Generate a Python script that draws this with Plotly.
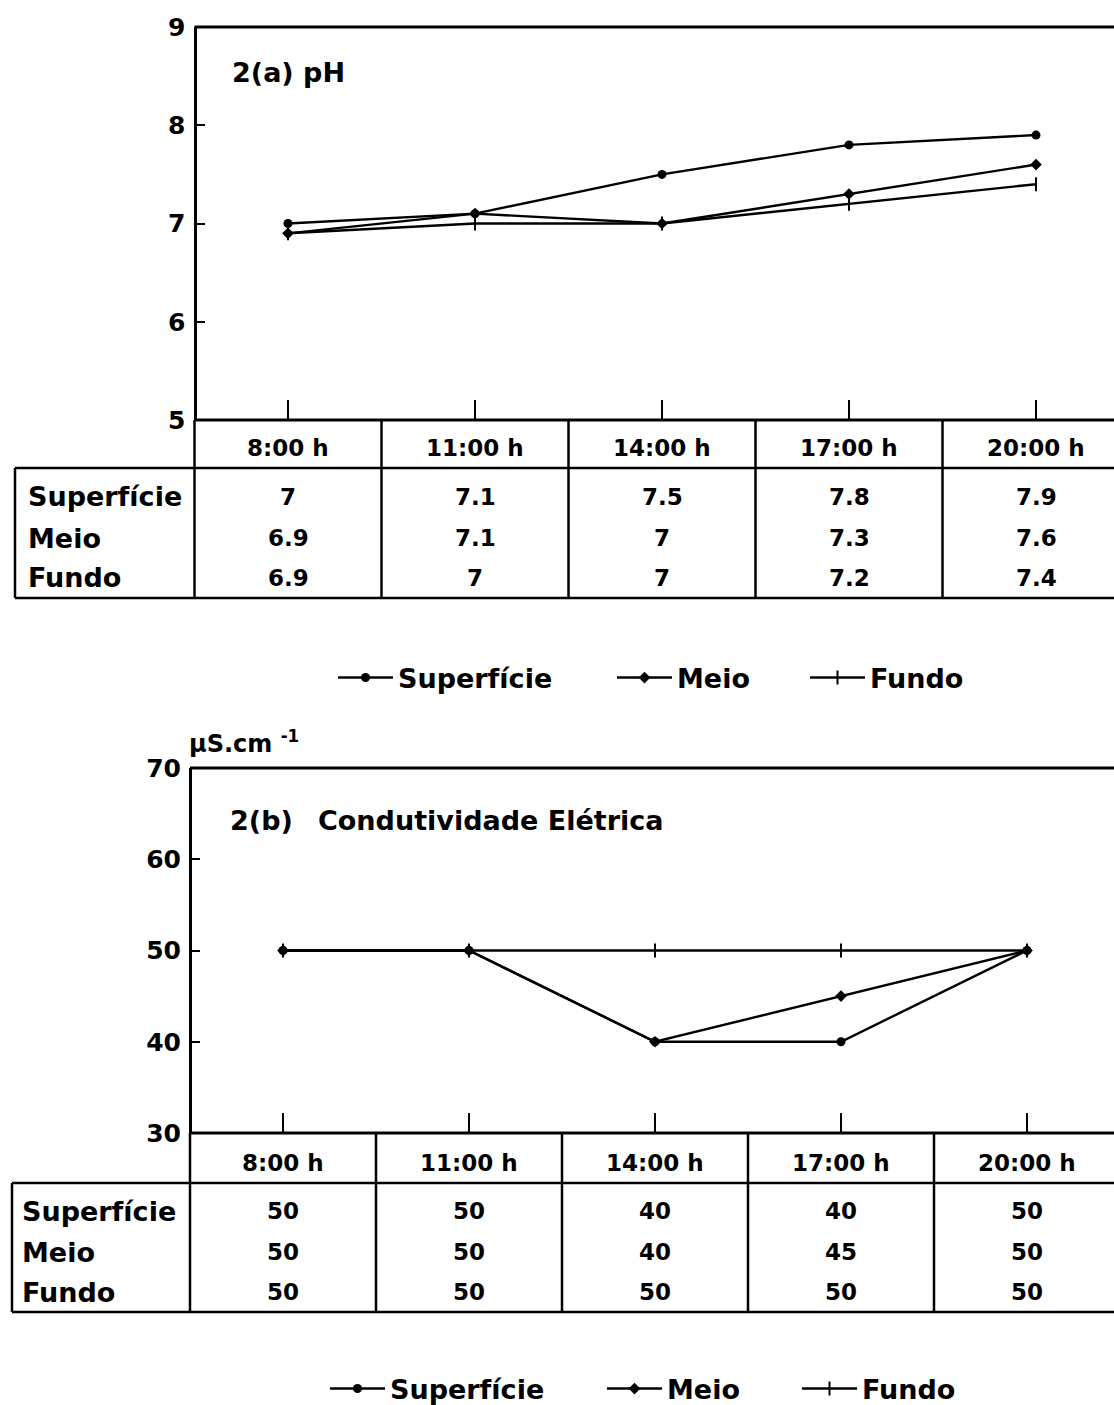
import plotly.graph_objects as go

# ---------------- data ----------------
times = ["8:00 h", "11:00 h", "14:00 h", "17:00 h", "20:00 h"]
series_names = ["Superfície", "Meio", "Fundo"]

ph_sup = [7, 7.1, 7.5, 7.8, 7.9]
ph_meio = [6.9, 7.1, 7, 7.3, 7.6]
ph_fundo = [6.9, 7, 7, 7.2, 7.4]

ce_sup = [50, 50, 40, 40, 50]
ce_meio = [50, 50, 40, 45, 50]
ce_fundo = [50, 50, 50, 50, 50]

ph_ticks = [5, 6, 7, 8, 9]
ce_ticks = [30, 40, 50, 60, 70]

# ---------------- layout helpers ----------------
W, H = 1114, 1405
FONT = "DejaVu Sans"


def fx(px):
    return px / W


def fy(py):
    return 1 - py / H


charts = [
    dict(xa="x", ya="y", x0=288, dx=187, top=27, bot=420, hbot=468, tbot=598,
         lab=15, hy=448, rows=[497, 538, 578], labx=26,
         ticks=ph_ticks, series=[ph_sup, ph_meio, ph_fundo],
         legends=["legend", "legend2", "legend3"], legx=[333, 612, 805], legy=678),
    dict(xa="x2", ya="y2", x0=283, dx=186, top=768, bot=1133, hbot=1183, tbot=1312,
         lab=12, hy=1163, rows=[1211, 1252, 1292], labx=20,
         ticks=ce_ticks, series=[ce_sup, ce_meio, ce_fundo],
         legends=["legend4", "legend5", "legend6"], legx=[325, 602, 797], legy=1389),
]

marker_styles = [
    dict(symbol="circle", size=9, color="black"),
    dict(symbol="diamond", size=9, color="black"),
    dict(symbol="line-ns-open", size=10, color="black", line=dict(width=2, color="black")),
]

fig = go.Figure()
shapes = []
annotations = []
LW = 2.5


def bfont(size):
    return dict(family=FONT, size=size, color="black", weight="bold")


legend_layouts = {}
for k, c in enumerate(charts):
    for name, vals, ms, lg, lx in zip(series_names, c["series"], marker_styles,
                                      c["legends"], c["legx"]):
        fig.add_trace(go.Scatter(
            x=times, y=vals, name=name, mode="lines+markers",
            line=dict(color="black", width=2.4),
            marker=ms, xaxis=c["xa"], yaxis=c["ya"], legend=lg,
        ))
        legend_layouts[lg] = dict(
            x=fx(lx), y=fy(c["legy"]), xanchor="left", yanchor="middle",
            orientation="h", font=bfont(27), bgcolor="rgba(0,0,0,0)",
            borderwidth=0, itemwidth=55,
        )

    xr = [-c["x0"] / c["dx"], (W - c["x0"]) / c["dx"]]
    left = -0.5
    suffix = "" if k == 0 else "2"
    fig.update_layout(**{
        "xaxis" + suffix: dict(
            domain=[0, 1], range=xr, anchor=c["ya"], type="category",
            categoryorder="array", categoryarray=times,
            showline=False, showgrid=False, zeroline=False,
            ticks="inside", ticklen=20, tickwidth=2, tickcolor="black",
            showticklabels=False, fixedrange=True, automargin=False,
        ),
        "yaxis" + suffix: dict(
            domain=[fy(c["bot"]), fy(c["top"])],
            range=[c["ticks"][0], c["ticks"][-1]],
            anchor="free", position=fx(c["x0"] + left * c["dx"]),
            showline=True, linewidth=3, linecolor="black",
            showgrid=False, zeroline=False,
            tickvals=c["ticks"], ticks="inside", ticklen=8, tickwidth=2,
            tickcolor="black", tickfont=bfont(25), ticklabelstandoff=3,
            fixedrange=True, automargin=False,
        ),
    })

    xend = xr[1] + 0.3
    # plot top border and header top border
    for py in (c["top"], c["bot"]):
        shapes.append(dict(type="line", xref=c["xa"], yref="paper",
                           x0=left, x1=xend, y0=fy(py), y1=fy(py),
                           line=dict(color="black", width=3)))
    # header bottom & table bottom
    for py in (c["hbot"], c["tbot"]):
        shapes.append(dict(type="line", xref="paper", yref="paper",
                           x0=fx(c["lab"]), x1=1.01, y0=fy(py), y1=fy(py),
                           line=dict(color="black", width=LW)))
    # label column left edge
    shapes.append(dict(type="line", xref="paper", yref="paper",
                       x0=fx(c["lab"]), x1=fx(c["lab"]),
                       y0=fy(c["hbot"]), y1=fy(c["tbot"]),
                       line=dict(color="black", width=LW)))
    # column boundaries
    for i in range(len(times) + 1):
        shapes.append(dict(type="line", xref=c["xa"], yref="paper",
                           x0=i - 0.5, x1=i - 0.5,
                           y0=fy(c["bot"]), y1=fy(c["tbot"]),
                           line=dict(color="black", width=LW)))
    # header texts
    for i, t in enumerate(times):
        annotations.append(dict(xref=c["xa"], yref="paper", x=i, y=fy(c["hy"]),
                                text=t, showarrow=False, font=bfont(23),
                                xanchor="center", yanchor="middle"))
    # rows
    for r, (name, vals) in enumerate(zip(series_names, c["series"])):
        annotations.append(dict(xref="paper", yref="paper", x=fx(c["labx"]),
                                y=fy(c["rows"][r]), text=name, showarrow=False,
                                font=bfont(27), xanchor="left", yanchor="middle"))
        for i, v in enumerate(vals):
            annotations.append(dict(xref=c["xa"], yref="paper", x=i,
                                    y=fy(c["rows"][r]), text=f"{v:g}",
                                    showarrow=False, font=bfont(23),
                                    xanchor="center", yanchor="middle"))

# titles
annotations.append(dict(xref="paper", yref="paper", x=fx(230), y=fy(72),
                        text="2(a) pH", showarrow=False, font=bfont(27),
                        xanchor="left", yanchor="middle"))
annotations.append(dict(xref="paper", yref="paper", x=fx(228), y=fy(820),
                        text="2(b)", showarrow=False, font=bfont(27),
                        xanchor="left", yanchor="middle"))
annotations.append(dict(xref="paper", yref="paper", x=fx(316), y=fy(820),
                        text="Condutividade Elétrica", showarrow=False, font=bfont(27),
                        xanchor="left", yanchor="middle"))
annotations.append(dict(xref="paper", yref="paper", x=fx(187), y=fy(742),
                        text="µS.cm <sup>-1</sup>", showarrow=False, font=bfont(24),
                        xanchor="left", yanchor="middle"))

fig.update_layout(
    width=W, height=H,
    margin=dict(l=0, r=0, t=0, b=0, pad=0, autoexpand=False),
    paper_bgcolor="white", plot_bgcolor="white",
    showlegend=True,
    shapes=shapes, annotations=annotations,
    font=dict(family=FONT, color="black"),
    **legend_layouts,
)

post = (
    "document.documentElement.style.margin='0';"
    "document.body.style.margin='0';document.body.style.padding='0';"
    "document.body.style.overflow='hidden';"
    "var g=document.getElementById('{plot_id}');"
    "g.style.position='absolute';g.style.top='0px';g.style.left='0px';"
)
fig.write_html("out.html", config={"displayModeBar": False}, post_script=post)
